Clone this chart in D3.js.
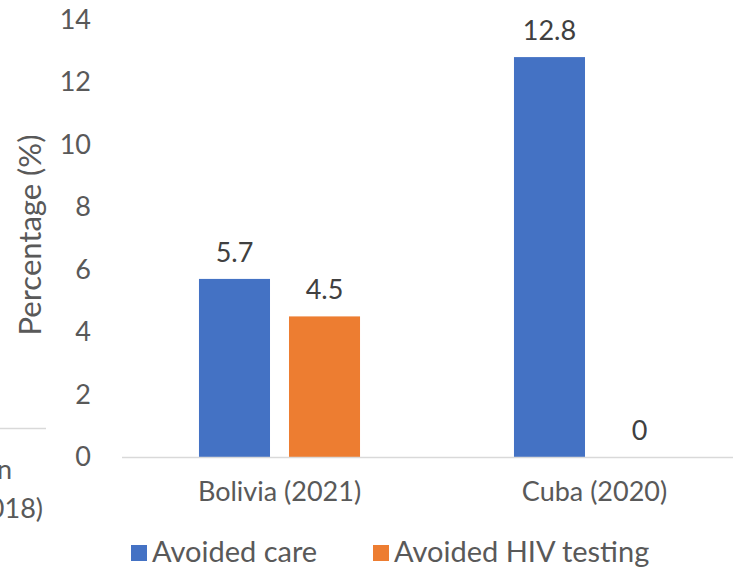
<!DOCTYPE html>
<html>
<head>
<meta charset="utf-8">
<script src="https://cdn.jsdelivr.net/npm/d3@7"></script>
<style>
  html, body { margin: 0; padding: 0; background: #fff; }
  svg { display: block; }
  text { font-family: Lato, "Open Sans", sans-serif; }
</style>
</head>
<body>
<svg id="chart" width="733" height="569"></svg>
<script>
// Survey results: share of respondents who avoided services
const categories = ["Bolivia (2021)", "Cuba (2020)"];
const seriesNames = ["Avoided care", "Avoided HIV testing"];
const avoidedCare = [5.7, 12.8];
const avoidedHivTesting = [4.5, 0];
const seriesColors = ["#4472C4", "#ED7D31"];
const yTicks = [0, 2, 4, 6, 8, 10, 12, 14];

const FONT = "Lato, 'Open Sans', sans-serif";
const svg = d3.select("#chart");
const W = 733, H = 569;

const y = d3.scaleLinear().domain([0, 14]).range([457, 19.6]);
const x0 = d3.scaleBand().domain(categories).range([122, 752]);
const x1 = d3.scaleBand().domain(seriesNames)
  .range([0, x0.bandwidth()]).paddingInner(0.211).paddingOuter(0.855);

const rows = categories.map((c, i) => ({
  category: c,
  values: [avoidedCare[i], avoidedHivTesting[i]]
}));

// Neighbouring panel edge, left side
svg.append("line")
  .attr("x1", -10).attr("x2", 46).attr("y1", 428.5).attr("y2", 428.5)
  .attr("stroke", "#d9d9d9").attr("stroke-width", 1.3);
svg.append("text").attr("x", 12).attr("y", 479).attr("text-anchor", "end")
  .attr("font-size", 27).attr("fill", "#595959").text("n");
svg.append("text").attr("x", 43).attr("y", 518).attr("text-anchor", "end")
  .attr("font-size", 27).attr("fill", "#595959").text("(2018)");

// Y axis labels (no axis line)
const yAxis = d3.axisLeft(y).tickValues(yTicks).tickSize(0).tickPadding(0);
const gy = svg.append("g").attr("transform", "translate(91,0)").call(yAxis);
gy.select(".domain").remove();
gy.selectAll("text")
  .attr("font-size", 27).attr("fill", "#595959")
  .attr("font-family", FONT);

svg.append("text")
  .attr("transform", "translate(41,235) rotate(-90)")
  .attr("text-anchor", "middle")
  .attr("font-size", 31).attr("fill", "#595959")
  .text("Percentage (%)");

// Bars
const groups = svg.append("g").selectAll("g").data(rows).join("g")
  .attr("transform", d => `translate(${x0(d.category)},0)`);

groups.selectAll("rect")
  .data(d => d.values.map((v, j) => ({ name: seriesNames[j], value: v, j })))
  .join("rect")
  .attr("x", d => x1(d.name))
  .attr("width", x1.bandwidth())
  .attr("y", d => y(d.value))
  .attr("height", d => y(0) - y(d.value))
  .attr("fill", d => seriesColors[d.j]);

groups.selectAll("text.val")
  .data(d => d.values.map((v, j) => ({ name: seriesNames[j], value: v, j })))
  .join("text")
  .attr("class", "val")
  .attr("x", d => x1(d.name) + x1.bandwidth() / 2)
  .attr("y", d => y(d.value) - 17)
  .attr("text-anchor", "middle")
  .attr("font-size", 27).attr("fill", "#404040")
  .text(d => d.value);

// X axis baseline and category labels
svg.append("line")
  .attr("x1", 122).attr("x2", W).attr("y1", 457.5).attr("y2", 457.5)
  .attr("stroke", "#d9d9d9").attr("stroke-width", 1.3);

const xAxis = d3.axisBottom(x0).tickSize(0).tickPadding(0);
const gx = svg.append("g").attr("transform", "translate(0,482)").call(xAxis);
gx.select(".domain").remove();
gx.selectAll("text")
  .attr("font-size", 27).attr("fill", "#595959")
  .attr("font-family", FONT);

// Legend
const legendX = [131, 373];
const legend = svg.append("g").selectAll("g").data(seriesNames).join("g")
  .attr("transform", (d, i) => `translate(${legendX[i]},545)`);
legend.append("rect").attr("width", 16).attr("height", 16)
  .attr("fill", (d, i) => seriesColors[i]);
legend.append("text").attr("x", 21).attr("y", 17)
  .attr("font-size", 29).attr("fill", "#595959")
  .text(d => d);
</script>
</body>
</html>
